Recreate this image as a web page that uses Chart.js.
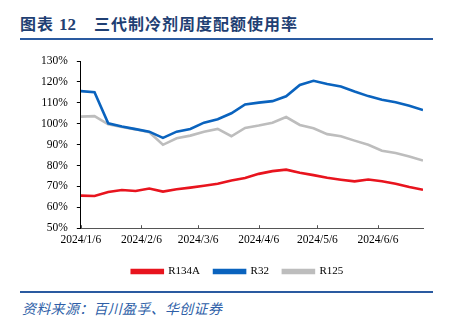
<!DOCTYPE html>
<html>
<head>
<meta charset="utf-8">
<script src="https://cdn.jsdelivr.net/npm/chart.js@4"></script>
<style>
  body { margin:0; background:#fff; }
  #wrap { position:relative; width:457px; height:324px; overflow:hidden; }
  #title { position:absolute; left:20px; top:11px; font-family:"Noto Sans CJK SC"; font-weight:bold; font-size:16px; letter-spacing:1px; color:#1F3F73; white-space:nowrap; }
  #title .num { font-family:"Liberation Serif"; font-size:17px; letter-spacing:0; margin-left:5px; margin-right:18px; }
  .rule { position:absolute; left:20px; width:413px; height:2px; background:#2A5AA0; }
  #src { position:absolute; left:22px; top:298px; font-family:"Noto Sans CJK SC"; font-style:italic; font-size:14px; letter-spacing:0.3px; color:#2F5FA8; white-space:nowrap; }
  canvas { position:absolute; left:0; top:0; }
</style>
</head>
<body>
<div id="wrap">
  <div id="title">图表<span class="num">12</span>三代制冷剂周度配额使用率</div>
  <div class="rule" style="top:38px"></div>
  <canvas id="myChart" width="457" height="290"></canvas>
  <div class="rule" style="top:291px"></div>
  <div id="src">资料来源：百川盈孚、华创证券</div>
</div>
<script>
// weekly dates
const dates = ['2024/1/6','2024/1/13','2024/1/20','2024/1/27','2024/2/3','2024/2/10','2024/2/17','2024/2/24',
  '2024/3/2','2024/3/9','2024/3/16','2024/3/23','2024/3/30','2024/4/6','2024/4/13','2024/4/20','2024/4/27',
  '2024/5/4','2024/5/11','2024/5/18','2024/5/25','2024/6/1','2024/6/8','2024/6/15','2024/6/22','2024/6/29'];
const r134a = [65.6,65.4,67.3,68.3,67.8,69.0,67.5,68.6,69.4,70.3,71.3,72.8,74.0,76.0,77.3,78.0,76.5,75.4,74.1,73.2,72.4,73.3,72.5,71.3,69.7,68.4];
const r32   = [115.6,115.1,100.2,98.7,97.4,96.2,93.2,96.2,97.5,100.5,102.1,105.0,109.2,110.1,110.8,113.1,118.5,120.5,119.0,117.8,115.4,113.2,111.5,110.3,108.6,106.5];
const r125  = [103.4,103.6,99.7,98.4,97.3,95.9,89.9,93.0,94.3,96.2,97.5,94.0,98.0,99.1,100.5,103.2,99.4,97.8,95.0,94.0,91.9,89.9,87.1,86.0,84.3,82.4];
const tickLabels = ['2024/1/6','2024/2/6','2024/3/6','2024/4/6','2024/5/6','2024/6/6'];

// days since first date
function dayNo(s){
  const p = s.split('/').map(Number);
  return (Date.UTC(p[0],p[1]-1,p[2]) - Date.UTC(2024,0,6)) / 86400000;
}
const tickDays = tickLabels.map(dayNo);
const pts = arr => arr.map((v,i) => ({x: dayNo(dates[i]), y: v}));

const serif = {family:'"Liberation Serif", "Times New Roman", serif', size:11.5};

// small upward tick marks on the x axis
const xTicksUp = {
  id:'xTicksUp',
  afterLayout(chart){
    // nudge legend a bit right, like the original
    chart.legend.left += 10;
    chart.legend.right += 10;
  },
  afterDraw(chart){
    const c = chart.ctx, xs = chart.scales.x, b = chart.chartArea.bottom;
    c.save();
    c.strokeStyle = '#555';
    c.lineWidth = 1;
    tickDays.forEach(d => {
      const px = Math.round(xs.getPixelForValue(d)) + 0.5;
      c.beginPath(); c.moveTo(px, b); c.lineTo(px, b - 3); c.stroke();
    });
    c.restore();
  }
};

const ctx = document.getElementById('myChart');
new Chart(ctx, {
  type:'line',
  data:{
    datasets:[
      {label:'R134A', data:pts(r134a), borderColor:'#E8141E', backgroundColor:'#E8141E', borderWidth:2.6, pointRadius:0, tension:0},
      {label:'R32', data:pts(r32), borderColor:'#0A63BE', backgroundColor:'#0A63BE', borderWidth:2.6, pointRadius:0, tension:0},
      {label:'R125', data:pts(r125), borderColor:'#BDBDBD', backgroundColor:'#BDBDBD', borderWidth:2.6, pointRadius:0, tension:0}
    ]
  },
  options:{
    responsive:false,
    animation:false,
    layout:{ padding:{left:32, right:34, top:61, bottom:3} },
    plugins:{
      legend:{
        position:'bottom',
        labels:{ color:'#000', font:{family:serif.family, size:11}, boxWidth:31, boxHeight:3, padding:14 }
      },
      tooltip:{enabled:false}
    },
    scales:{
      x:{
        type:'linear',
        min:0, max:175,
        afterBuildTicks: axis => { axis.ticks = tickDays.map(v => ({value:v})); },
        ticks:{ color:'#000', font:serif, maxRotation:0, autoSkip:false, padding:5,
          callback: v => tickLabels[tickDays.indexOf(v)] },
        grid:{ display:false, drawTicks:false },
        border:{ display:true, color:'#555', width:1 }
      },
      y:{
        min:50, max:130,
        ticks:{ stepSize:10, color:'#000', font:serif, padding:9, callback: v => v + '%' },
        grid:{ drawOnChartArea:false, drawTicks:true, tickLength:4, color:'#000' },
        border:{ display:true, color:'#000', width:1 }
      }
    }
  },
  plugins:[xTicksUp]
});
</script>
</body>
</html>
